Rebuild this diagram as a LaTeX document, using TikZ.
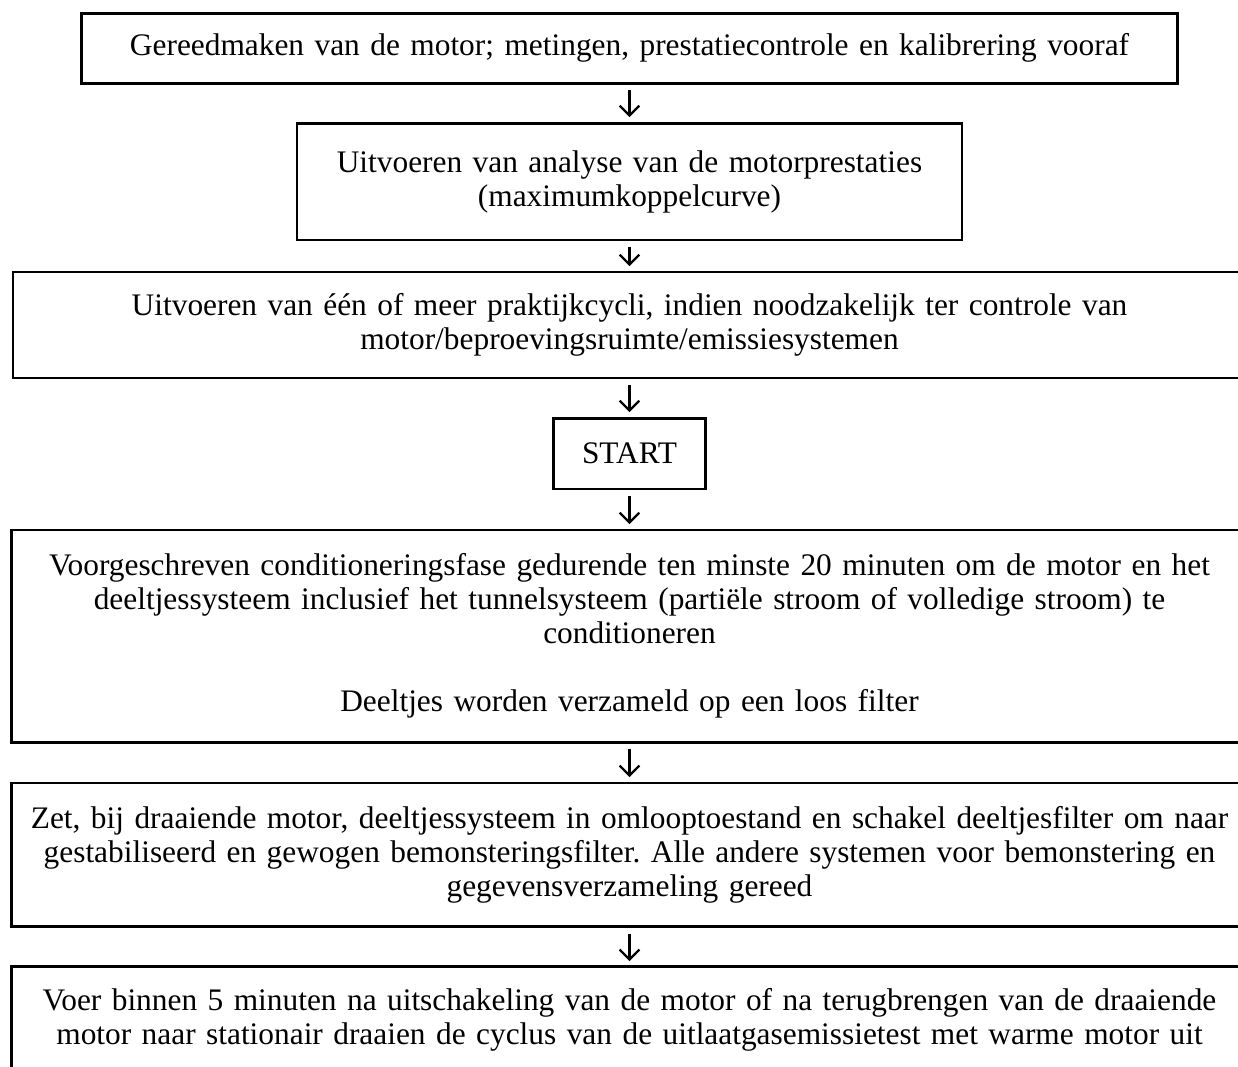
\documentclass[tikz,border=0pt]{standalone}
\usepackage{fontspec}
\setmainfont{Liberation Serif}
\usetikzlibrary{arrows.meta}
\frenchspacing

\begin{document}
\begin{tikzpicture}[
    flbox/.style={rectangle, draw=black, line width=1.2pt, align=center, inner sep=2pt,
      font=\fontsize{12.75}{13.8}\selectfont},
    flarrow/.style={line width=0.95pt, -{Straight Barb[length=4pt,width=8pt]},
      shorten <=2.2pt, shorten >=1.8pt}
  ]
    \useasboundingbox (0,0) rectangle (17.686,-15.229);
    \node[flbox, minimum width=15.67cm, minimum height=1.0cm, text width=15.4cm] (prep) at (8.993,-0.686) {%
      Gereedmaken van de motor; metingen, prestatiecontrole en kalibrering vooraf};
    \node[flbox, minimum width=9.5cm, minimum height=1.671cm, text width=9.3cm] (analyse) at (8.993,-2.593) {%
      Uitvoeren van analyse van de motorprestaties\\(maximumkoppelcurve)};
    \node[flbox, minimum width=17.614cm, minimum height=1.514cm, text width=17.4cm] (praktijk) at (8.993,-4.643) {%
      Uitvoeren van één of meer praktijkcycli, indien noodzakelijk ter controle van\\
      motor/beproevingsruimte/emissiesystemen};
    \node[flbox, minimum width=2.171cm, minimum height=1.014cm] (start) at (8.993,-6.479) {START};
    \node[flbox, minimum width=17.671cm, minimum height=3.029cm, text width=17.45cm] (cond) at (8.993,-9.086) {%
      Voorgeschreven conditioneringsfase gedurende ten minste 20 minuten om de motor en het\\
      deeltjessysteem inclusief het tunnelsysteem (partiële stroom of volledige stroom) te\\
      conditioneren\\[13.8pt]
      Deeltjes worden verzameld op een loos filter};
    \node[flbox, minimum width=17.671cm, minimum height=2.057cm, text width=17.45cm] (omloop) at (8.993,-12.214) {%
      Zet, bij draaiende motor, deeltjessysteem in omlooptoestand en schakel deeltjesfilter om naar\\
      gestabiliseerd en gewogen bemonsteringsfilter. Alle andere systemen voor bemonstering en\\
      gegevensverzameling gereed};
    \node[flbox, minimum width=17.671cm, minimum height=1.514cm, text width=17.45cm] (test) at (8.993,-14.571) {%
      Voer binnen 5 minuten na uitschakeling van de motor of na terugbrengen van de draaiende\\
      motor naar stationair draaien de cyclus van de uitlaatgasemissietest met warme motor uit};
    \draw[flarrow] (prep) -- (analyse);
    \draw[flarrow] (analyse) -- (praktijk);
    \draw[flarrow] (praktijk) -- (start);
    \draw[flarrow] (start) -- (cond);
    \draw[flarrow] (cond) -- (omloop);
    \draw[flarrow] (omloop) -- (test);
  \end{tikzpicture}
\end{document}
